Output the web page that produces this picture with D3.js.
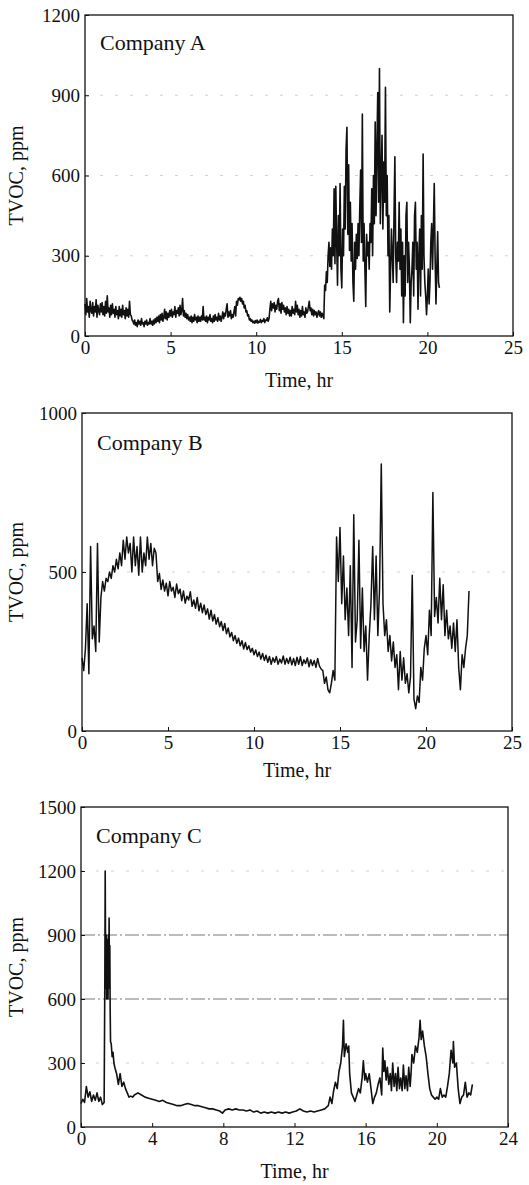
<!DOCTYPE html>
<html>
<head>
<meta charset="utf-8">
<script src="https://cdn.jsdelivr.net/npm/d3@7"></script>
<style>
  body { margin: 0; background: #fff; }
  svg { display: block; }
  text { font-family: "Liberation Serif", "Times New Roman", serif; fill: #111; }
</style>
</head>
<body>
<svg id="chart" width="529" height="1185"></svg>
<script>
// ---- Data: TVOC readings (ppm) over a working day, three companies ----

// Company A: one reading every 0.05 hr starting at 0 hr (20 readings per row = 1 hr)
const companyA_step = 0.05;
const companyA_tvoc = [
  120, 80, 140, 90, 110, 70, 130, 95, 85, 125, 75, 110, 90, 135, 70, 115, 95, 80, 120, 90,
  125, 80, 110, 75, 130, 85, 150, 90, 105, 70, 115, 80, 120, 85, 100, 70, 110, 80, 95, 65,
  110, 75, 100, 70, 115, 80, 95, 65, 105, 75, 100, 70, 130, 80, 75, 60, 55, 45, 60, 40,
  50, 35, 60, 45, 55, 40, 65, 45, 50, 35, 55, 45, 60, 40, 50, 45, 65, 45, 55, 40,
  60, 45, 65, 50, 70, 55, 75, 50, 80, 60, 85, 55, 70, 100, 65, 90, 60, 85, 70, 95,
  75, 100, 70, 90, 80, 110, 70, 95, 85, 105, 75, 115, 80, 95, 140, 75, 95, 70, 85, 65,
  80, 60, 70, 55, 75, 50, 70, 55, 80, 60, 70, 50, 75, 55, 70, 55, 75, 60, 110, 60,
  70, 55, 75, 50, 70, 60, 80, 55, 65, 50, 75, 55, 80, 60, 70, 55, 85, 60, 75, 55,
  70, 90, 65, 85, 75, 100, 120, 70, 90, 75, 95, 65, 80, 70, 90, 110, 75, 130, 115, 140,
  135, 145, 130, 140, 120, 130, 105, 115, 90, 95, 75, 80, 60, 65, 55, 60, 50, 55, 48, 58,
  50, 60, 48, 55, 52, 62, 50, 58, 55, 65, 50, 60, 58, 68, 55, 65, 100, 130, 95, 120,
  105, 125, 90, 115, 100, 130, 140, 95, 120, 85, 125, 100, 115, 90, 105, 80, 110, 85, 100, 75,
  95, 75, 110, 85, 100, 80, 130, 90, 115, 80, 100, 70, 95, 75, 110, 80, 90, 70, 105, 85,
  90, 110, 130, 95, 105, 80, 100, 75, 95, 80, 90, 70, 85, 95, 75, 90, 70, 85, 75, 65,
  190, 170, 240, 200, 300, 350, 260, 330, 250, 400, 300, 550, 270, 560, 350, 190, 450, 300, 570, 250,
  180, 400, 300, 560, 400, 700, 780, 380, 640, 320, 500, 280, 420, 200, 130, 350, 250, 380, 290, 420,
  300, 480, 620, 350, 830, 280, 420, 250, 110, 380, 300, 350, 250, 420, 350, 550, 300, 600, 420, 800,
  450, 700, 910, 500, 1000, 420, 600, 750, 400, 650, 500, 930, 450, 600, 300, 450, 90, 250, 400, 300,
  200, 450, 670, 300, 200, 350, 280, 500, 250, 400, 150, 350, 50, 300, 150, 450, 500, 200, 350, 250,
  50, 200, 250, 350, 150, 450, 500, 250, 350, 100, 300, 400, 150, 450, 250, 680, 300, 200, 150, 80,
  150, 250, 120, 200, 350, 420, 250, 400, 570, 300, 120, 250, 390, 200, 180
];

// Company B: one reading every 0.1 hr starting at 0 hr (10 readings per row = 1 hr)
const companyB_step = 0.1;
const companyB_tvoc = [
  230, 190, 260, 400, 180, 580, 290, 330, 250, 590,
  280, 420, 470, 440, 480, 470, 500, 480, 520, 500,
  540, 510, 560, 520, 600, 540, 610, 560, 590, 500,
  610, 520, 580, 490, 610, 500, 560, 520, 610, 540,
  590, 520, 575, 560, 470, 495, 445, 475, 440, 465,
  425, 470, 440, 452, 420, 462, 432, 446, 410, 440,
  402, 424, 412, 438, 392, 412, 386, 420, 378, 402,
  372, 396, 366, 384, 352, 380, 346, 366, 336, 356,
  328, 344, 316, 338, 306, 324, 296, 310, 284, 300,
  276, 292, 268, 284, 258, 278, 256, 268, 248, 260,
  240, 255, 234, 248, 226, 244, 222, 238, 216, 234,
  210, 230, 216, 234, 210, 226, 214, 236, 210, 228,
  212, 232, 208, 228, 206, 232, 210, 234, 206, 224,
  212, 230, 202, 224, 206, 222, 200, 228, 205, 195,
  190, 150, 170, 130, 120, 150, 190, 160, 610, 470,
  640, 400, 550, 350, 450, 300, 520, 200, 680, 280,
  350, 600, 260, 450, 250, 330, 160, 300, 400, 580,
  350, 550, 300, 450, 840, 400, 300, 350, 250, 300,
  220, 280, 200, 240, 130, 250, 160, 230, 150, 180,
  120, 170, 490, 100, 70, 110, 90, 200, 160, 260,
  300, 240, 380, 300, 750, 360, 420, 340, 480, 350,
  460, 300, 380, 290, 330, 260, 340, 250, 350, 200,
  130, 240, 200, 260, 300, 440
];

// Company C: [time (hr), TVOC (ppm)]
const companyC_readings = [
  [0.0,110],[0.1,130],[0.2,115],[0.3,190],[0.4,140],[0.5,165],[0.6,120],[0.7,150],[0.8,125],[0.9,160],
  [1.0,120],[1.1,140],[1.2,105],[1.3,115],[1.32,400],[1.34,700],[1.36,1200],[1.38,850],[1.40,650],[1.42,900],
  [1.44,600],[1.46,880],[1.48,620],[1.50,850],[1.52,600],[1.54,900],[1.56,700],[1.58,980],[1.60,650],[1.62,850],
  [1.64,550],[1.66,400],[1.70,390],[1.75,330],[1.80,350],[1.85,300],[1.9,280],
  [2.0,250],[2.1,200],[2.2,250],[2.3,190],[2.4,210],[2.5,180],[2.6,160],[2.7,140],[2.8,145],[2.9,140],
  [3.0,150],[3.2,160],[3.4,150],[3.6,140],[3.8,135],[4.0,130],[4.2,125],[4.4,120],[4.6,125],[4.8,115],
  [5.0,110],[5.2,105],[5.4,100],[5.6,100],[5.8,105],[6.0,110],[6.2,105],[6.4,100],[6.6,100],[6.8,95],
  [7.0,90],[7.2,85],[7.4,85],[7.6,80],[7.8,75],[7.95,65],[8.1,80],[8.3,85],[8.5,80],[8.7,85],
  [8.9,80],[9.1,80],[9.3,75],[9.5,80],[9.7,70],[9.9,75],[10.1,65],[10.3,70],[10.5,65],[10.7,70],
  [10.9,65],[11.1,70],[11.3,65],[11.5,70],[11.7,65],[11.9,70],[12.1,75],[12.3,85],[12.5,75],[12.7,70],
  [12.9,75],[13.1,70],[13.3,75],[13.5,80],[13.7,85],[13.9,100],[14.0,140],[14.1,110],[14.2,170],[14.3,210],
  [14.4,180],[14.5,260],[14.6,300],[14.7,380],[14.75,500],[14.8,330],[14.9,390],[15.0,350],[15.05,380],[15.1,250],
  [15.2,160],[15.3,140],[15.4,120],[15.5,150],[15.6,180],[15.7,160],[15.8,230],[15.87,310],[15.95,220],[16.0,250],
  [16.1,210],[16.2,250],[16.3,180],[16.4,110],[16.5,140],[16.6,160],[16.7,200],[16.8,230],[16.9,150],[16.96,370],
  [17.02,260],[17.08,310],[17.15,220],[17.22,280],[17.3,200],[17.38,250],[17.45,170],[17.52,300],[17.6,190],[17.68,250],
  [17.75,170],[17.82,280],[17.9,180],[17.97,230],[18.05,170],[18.12,290],[18.2,180],[18.27,240],[18.35,170],[18.42,280],
  [18.5,190],[18.55,250],[18.6,340],[18.7,300],[18.8,380],[18.9,350],
  [19.0,420],[19.06,500],[19.12,410],[19.2,450],[19.3,380],[19.4,330],[19.5,250],[19.6,180],[19.7,150],[19.8,140],
  [19.9,130],[20.0,140],[20.1,130],[20.2,180],[20.3,140],[20.4,150],[20.5,140],[20.6,190],[20.7,250],[20.8,360],
  [20.9,300],[20.93,400],[21.0,280],[21.1,300],[21.2,180],[21.3,110],[21.4,140],[21.5,150],[21.6,210],[21.7,140],
  [21.8,160],[21.9,150],[22.0,200]
];

// Tick values
const xTicksAB = [0, 5, 10, 15, 20, 25];
const xTicksC  = [0, 4, 8, 12, 16, 20, 24];
const yTicksA  = [0, 300, 600, 900, 1200];
const yTicksB  = [0, 500, 1000];
const yTicksC  = [0, 300, 600, 900, 1200, 1500];

// ---- Panel layout ----
const regular = (vals, step) => vals.map((v, i) => [i * step, v]);

const panels = [
  {
    name: "Company A", series: regular(companyA_tvoc, companyA_step),
    left: 85, right: 513, top: 15, bottom: 336,
    xDomain: [0, 25], yDomain: [0, 1200], xTicks: xTicksAB, yTicks: yTicksA,
    nameY: 50, titleY: 387, lineWidth: 1.6,
    grid: [{ v: 300, strong: false }, { v: 600, strong: false }, { v: 900, strong: false }]
  },
  {
    name: "Company B", series: regular(companyB_tvoc, companyB_step),
    left: 82, right: 512, top: 413, bottom: 731,
    xDomain: [0, 25], yDomain: [0, 1000], xTicks: xTicksAB, yTicks: yTicksB,
    nameY: 450, titleY: 777, lineWidth: 1.5,
    grid: [{ v: 500, strong: false }]
  },
  {
    name: "Company C", series: companyC_readings,
    left: 81, right: 508, top: 807, bottom: 1127,
    xDomain: [0, 24], yDomain: [0, 1500], xTicks: xTicksC, yTicks: yTicksC,
    nameY: 843, titleY: 1178, lineWidth: 1.6,
    grid: [{ v: 300, strong: false }, { v: 600, strong: true }, { v: 900, strong: true }, { v: 1200, strong: false }]
  }
];

const svg = d3.select("#chart");
const fmt = d3.format("d");

panels.forEach(p => {
  const x = d3.scaleLinear().domain(p.xDomain).range([p.left, p.right]);
  const y = d3.scaleLinear().domain(p.yDomain).range([p.bottom, p.top]);
  const g = svg.append("g");

  // faint horizontal reference lines
  g.selectAll("line.grid").data(p.grid).join("line")
    .attr("class", "grid")
    .attr("x1", p.left).attr("x2", p.right)
    .attr("y1", d => y(d.v)).attr("y2", d => y(d.v))
    .attr("stroke", d => d.strong ? "#666" : "#c8c8c8")
    .attr("stroke-width", d => d.strong ? 0.9 : 0.8)
    .attr("stroke-dasharray", d => d.strong ? "14,3,2,3" : "3,12");

  // TVOC trace
  const line = d3.line().x(d => x(d[0])).y(d => y(d[1]));
  g.append("path")
    .datum(p.series)
    .attr("d", line)
    .attr("fill", "none")
    .attr("stroke", "#111")
    .attr("stroke-width", p.lineWidth)
    .attr("stroke-linejoin", "round");

  // axes with inward ticks
  const xAxis = d3.axisBottom(x).tickValues(p.xTicks).tickFormat(fmt)
    .tickSizeInner(-4).tickSizeOuter(0).tickPadding(5);
  const yAxis = d3.axisLeft(y).tickValues(p.yTicks).tickFormat(fmt)
    .tickSizeInner(-4).tickSizeOuter(0).tickPadding(5);

  const gx = g.append("g").attr("transform", `translate(0,${p.bottom})`).call(xAxis);
  const gy = g.append("g").attr("transform", `translate(${p.left},0)`).call(yAxis);
  [gx, gy].forEach(a => {
    a.select(".domain").remove();
    a.selectAll(".tick line").attr("stroke", "#111").attr("stroke-width", 1);
    a.selectAll(".tick text")
      .style("font-family", '"Liberation Serif", "Times New Roman", serif')
      .style("font-size", "19px")
      .attr("fill", "#111");
  });

  // frame
  g.append("rect")
    .attr("x", p.left).attr("y", p.top)
    .attr("width", p.right - p.left).attr("height", p.bottom - p.top)
    .attr("fill", "none").attr("stroke", "#111").attr("stroke-width", 1.3);

  // in-plot panel name
  g.append("text")
    .attr("x", p.left + 15).attr("y", p.nameY)
    .style("font-size", "22px")
    .text(p.name);

  // axis titles
  g.append("text")
    .attr("x", (p.left + p.right) / 2).attr("y", p.titleY)
    .attr("text-anchor", "middle")
    .style("font-size", "20px")
    .text("Time, hr");

  g.append("text")
    .attr("transform", `translate(23,${(p.top + p.bottom) / 2}) rotate(-90)`)
    .attr("text-anchor", "middle")
    .style("font-size", "20px")
    .text("TVOC, ppm");
});
</script>
</body>
</html>
